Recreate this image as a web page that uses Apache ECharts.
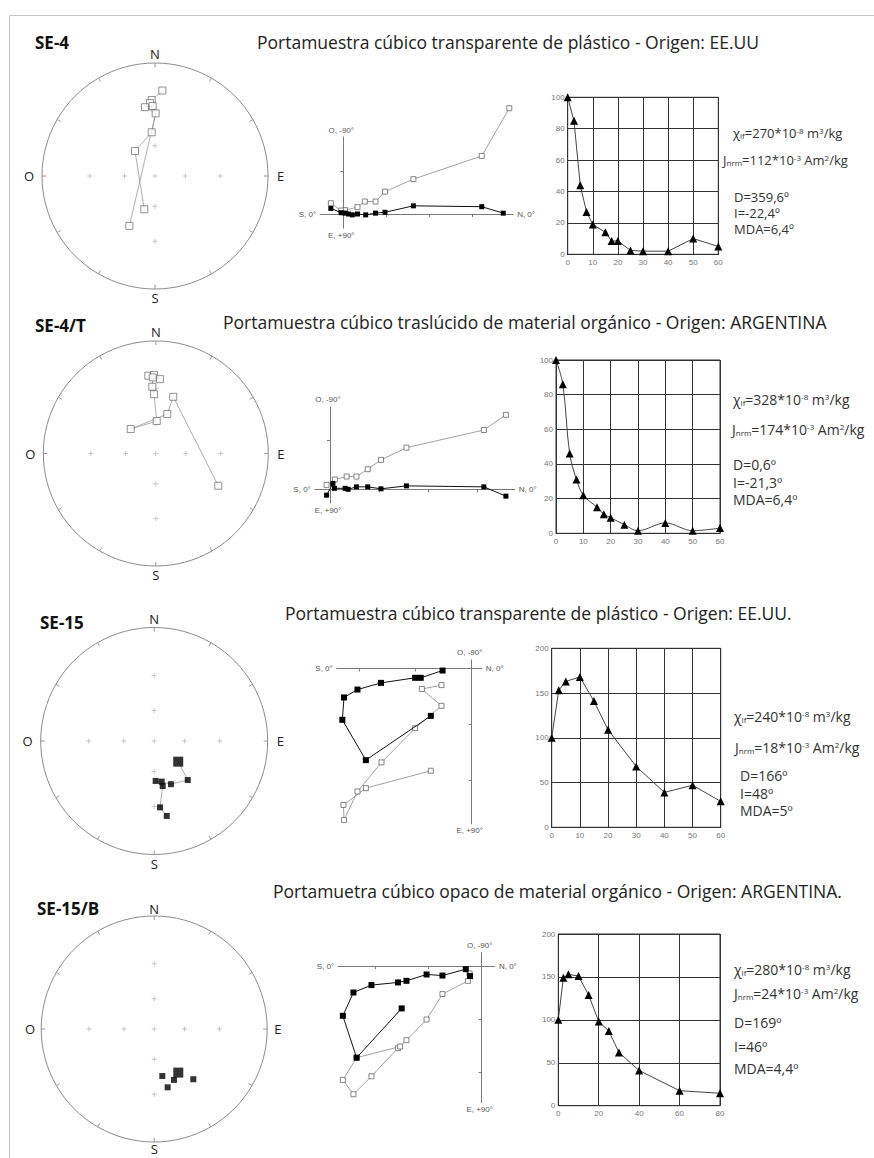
<!DOCTYPE html>
<html lang="es">
<head>
<meta charset="utf-8">
<title>Desmagnetización - portamuestras</title>
<script src="https://cdn.jsdelivr.net/npm/echarts@6.0.0/dist/echarts.min.js"></script>
<style>
html,body{margin:0;padding:0;background:#fff;}
#chart{width:874px;height:1158px;}
</style>
</head>
<body>
<div id="chart"></div>
<script>
// ================= DATA =================
const sampleIds = ['SE-4', 'SE-4/T', 'SE-15', 'SE-15/B'];
const holderTitles = [
  'Portamuestra cúbico transparente de plástico - Origen: EE.UU',
  'Portamuestra cúbico traslúcido de material orgánico - Origen: ARGENTINA',
  'Portamuestra cúbico transparente de plástico - Origen: EE.UU.',
  'Portamuetra cúbico opaco de material orgánico - Origen: ARGENTINA.'
];
const chiValues = ['270', '328', '240', '280'];
const jnrmValues = ['112', '174', '18', '24'];
const decValues = ['359,6º', '0,6º', '166º', '169º'];
const incValues = ['-22,4º', '-21,3º', '48º', '46º'];
const mdaValues = ['6,4º', '6,4º', '5º', '4,4º'];

// Stereonet directions (declination, inclination; negative = upper hemisphere)
const st1Dec = [4.9, 357.5, 356.1, 358.1, 351.7, 0.6, 355.7, 321.3, 197.8, 207.2];
const st1Inc = [-15.6, -22.2, -24.2, -26.4, -26.8, -32, -47.6, -58.4, -55.6, -37.2];
const st2Dec = [354.5, 358.7, 3.2, 357.7, 357, 358.3, 1.6, 314.3, 16.2, 17.1, 117.3];
const st2Inc = [-20.4, -20.2, -23, -21.8, -28.6, -34.4, -57.8, -55.4, -49.8, -34.4, -26];
const st3Dec = [130.7, 139.3, 158.8, 169.6, 177.9, 169.3, 175, 170.5];
const st3Inc = [58.8, 41.2, 45.6, 50, 51.2, 46, 29.2, 22.4];
const st4Dec = [151.1, 170.2, 158.8, 167, 142.1];
const st4Inc = [42.4, 44.2, 38.4, 34.2, 31.2];
// connection order (indices) for stereonet paths
const st1Paths = [[0, 1, 2, 3, 4, 5, 6, 7, 8], [5, 9]];
const st2Paths = [[0, 1, 2, 3, 4, 5, 6, 7, 8, 9, 10]];
const st3Paths = [[0, 1, 2, 3, 4, 5, 6, 7]];
const st4Paths = [];
const stFirstBig = [false, false, true, true];

// Zijderveld: horizontal projection (N, E) filled, vertical projection (N, Z) open
const zj1HN = [3.72, 3.22, 1.63, 0.97, 0.75, 0.52, 0.33, 0.21, 0.12, 0.04, -0.05, -0.29];
const zj1HE = [-0.02, -0.17, -0.19, -0.04, -0.02, 0.02, 0, 0.02, 0, -0.02, -0.03, -0.13];
const zj1VN = [3.86, 3.22, 1.63, 0.97, 0.75, 0.50, 0.33, 0.04, -0.05, -0.29];
const zj1VZ = [-2.46, -1.35, -0.81, -0.52, -0.29, -0.29, -0.16, -0.09, -0.08, -0.25];
const zj2HN = [3.59, 3.14, 1.56, 1.04, 0.77, 0.54, 0.37, 0.31, 0.09, 0.06, -0.07];
const zj2HE = [0.14, -0.05, -0.07, -0.01, -0.05, -0.05, 0, -0.02, -0.02, -0.12, 0.12];
const zj2VN = [3.59, 3.14, 1.56, 1.04, 0.77, 0.54, 0.34, 0.10, -0.07];
const zj2VZ = [-1.52, -1.21, -0.85, -0.60, -0.41, -0.26, -0.26, -0.20, -0.09];
const zj3HN = [-0.52, -0.91, -1.01, -1.62, -2.04, -2.28, -2.31, -1.89, -0.73];
const zj3HE = [0.04, 0.17, 0.17, 0.26, 0.38, 0.52, 0.92, 1.64, 0.85];
const zj3VN = [-0.54, -0.89, -0.54, -1.01, -1.61, -2.04, -2.28, -2.29, -1.89, -0.73];
const zj3VZ = [0.30, 0.37, 0.67, 1.07, 1.68, 2.20, 2.71, 2.44, 2.14, 1.83];
const zj4HN = [-0.22, -0.30, -0.74, -1.04, -1.42, -1.58, -2.08, -2.42, -2.62, -2.36, -1.51];
const zj4HE = [0.19, 0.06, 0.18, 0.16, 0.28, 0.31, 0.36, 0.50, 0.94, 1.73, 0.80];
const zj4VN = [-0.23, -0.26, -0.74, -1.04, -1.42, -1.58, -2.08, -2.42, -2.62, -2.36, -1.54];
const zj4VZ = [0.14, 0.28, 0.53, 1.01, 1.40, 1.55, 2.08, 2.42, 2.15, 1.73, 1.52];
const zjLabels = ['S, 0°', 'N, 0°', 'O, -90°', 'E, +90°'];

// AF demagnetization curves (field mT, intensity %)
const dm1Field = [0, 2.5, 5, 7.5, 10, 15, 17.5, 20, 25, 30, 40, 50, 60];
const dm1Int = [100, 85, 44, 27, 19, 14, 8.5, 8.5, 2.5, 2, 2, 10, 5];
const dm2Field = [0, 2.5, 5, 7.5, 10, 15, 17.5, 20, 25, 30, 40, 50, 60];
const dm2Int = [100, 86, 46, 31, 22, 15, 11, 9, 5, 1.5, 6, 1.5, 3];
const dm3Field = [0, 2.5, 5, 10, 15, 20, 30, 40, 50, 60];
const dm3Int = [100, 153, 163, 168, 141, 109, 68, 39, 47, 29];
const dm4Field = [0, 2.5, 5, 10, 15, 20, 25, 30, 40, 60, 80];
const dm4Int = [100, 149, 153, 151, 129, 98, 87, 62, 41, 17.5, 14.5];
const dmXMax = [60, 60, 60, 80];
const dmXInterval = [10, 10, 10, 20];
const dmYMax = [100, 100, 200, 200];
const dmYInterval = [20, 20, 50, 50];

// ================= LAYOUT =================
const stereoLayout = [
  {cx: 155, cy: 176, r: 113, margin: 3},
  {cx: 155.8, cy: 453.5, r: 112.5, margin: 3},
  {cx: 154.2, cy: 741, r: 113.5, margin: 3},
  {cx: 154.2, cy: 1029, r: 113, margin: 1}
];
const zijLayout = [
  {ox: 343.3, oy: 214, u: 43, xMin: -0.54, xMax: 3.95, yMin: -1.79, yMax: 0.33},
  {ox: 330, oy: 489.3, u: 49, xMin: -0.31, xMax: 3.77, yMin: -1.68, yMax: 0.28},
  {ox: 471.7, oy: 668.3, u: 56, xMin: -2.41, xMax: 0.18, yMin: -0.15, yMax: 2.78},
  {ox: 481.7, oy: 966, u: 53, xMin: -2.71, xMax: 0.25, yMin: -0.25, yMax: 2.58}
];
const demagLayout = [
  {left: 567.7, top: 97.3, width: 150.6, height: 157},
  {left: 556, top: 360, width: 164, height: 173.3},
  {left: 551.7, top: 648.3, width: 169, height: 179},
  {left: 558.3, top: 934, width: 161.7, height: 171.7}
];
const idPos = [[35, 42], [35, 325], [40, 622], [37, 908]];
const titlePos = [[257, 42], [223, 322], [285, 613], [273, 891]];
const propX = [[733, 723, 734, 734, 734], [733, 732, 733, 733, 733], [734, 735, 740, 740, 740], [734, 734, 734, 734, 734]];
const propY = [[133, 160, 197, 213, 229], [399, 429, 464, 482, 499], [716, 747, 775, 793, 810], [969, 993, 1022, 1046, 1068]];
const propFont = [13, 14, 14, 14];

// ================= BUILD =================
const stDec = [st1Dec, st2Dec, st3Dec, st4Dec];
const stInc = [st1Inc, st2Inc, st3Inc, st4Inc];
const stPaths = [st1Paths, st2Paths, st3Paths, st4Paths];
const zjHN = [zj1HN, zj2HN, zj3HN, zj4HN];
const zjHE = [zj1HE, zj2HE, zj3HE, zj4HE];
const zjVN = [zj1VN, zj2VN, zj3VN, zj4VN];
const zjVZ = [zj1VZ, zj2VZ, zj3VZ, zj4VZ];
const dmField = [dm1Field, dm2Field, dm3Field, dm4Field];
const dmInt = [dm1Int, dm2Int, dm3Int, dm4Int];

const TXT = '"Open Sans", "Noto Sans", sans-serif';
const AX = '"Liberation Sans", Arial, sans-serif';

// stereographic projection radius for an inclination
function projR(inc) { return Math.tan((90 - Math.abs(inc)) / 2 * Math.PI / 180); }

const cardinal = {0: '{n|N}', 90: '{e|E}', 180: '{n|S}', 270: '{o|O}'};
const graticule = [[0, 0]];
[60, 30].forEach(function (inc) {
  [0, 90, 180, 270].forEach(function (a) { graticule.push([projR(inc), a]); });
});
const crossPath = 'path://M4,0H6V4H10V6H6V10H4V6H0V4H4Z';

const chart = echarts.init(document.getElementById('chart'), null, {renderer: 'svg', width: 874, height: 1158});

const polar = [], angleAxis = [], radiusAxis = [], grid = [], xAxis = [], yAxis = [], series = [];

stereoLayout.forEach(function (s, k) {
  polar.push({center: [s.cx, s.cy], radius: s.r});
  angleAxis.push({
    polarIndex: k, type: 'value', min: 0, max: 360, interval: 30, startAngle: 90, clockwise: true,
    axisLine: {show: true, lineStyle: {color: '#8c8c8c', width: 1}},
    axisTick: {show: true, inside: true, length: 4, lineStyle: {color: '#9a9a9a', width: 1}},
    axisLabel: {show: true, margin: s.margin, color: '#222', fontSize: 13, fontFamily: TXT,
      formatter: function (v) { return cardinal[v] || ''; },
      rich: {
        n: {fontSize: 13, lineHeight: 12, fontFamily: TXT, color: '#222'},
        e: {fontSize: 13, lineHeight: 12, fontFamily: TXT, color: '#222', padding: [0, 0, 0, 6]},
        o: {fontSize: 13, lineHeight: 12, fontFamily: TXT, color: '#222', padding: [0, 5, 0, 0]}
      }},
    splitLine: {show: false}
  });
  radiusAxis.push({
    polarIndex: k, type: 'value', min: 0, max: 1,
    axisLine: {show: false}, axisTick: {show: false}, axisLabel: {show: false}, splitLine: {show: false}
  });
  series.push({type: 'scatter', coordinateSystem: 'polar', polarIndex: k, symbol: crossPath, symbolSize: 5,
    itemStyle: {color: '#b8b8b8'}, data: graticule, silent: true, z: 1});
  stPaths[k].forEach(function (path) {
    series.push({type: 'line', coordinateSystem: 'polar', polarIndex: k, symbol: 'none', silent: true, z: 2,
      lineStyle: {color: '#9a9a9a', width: 0.8},
      data: path.map(function (i) { return [projR(stInc[k][i]), stDec[k][i]]; })});
  });
  series.push({type: 'scatter', coordinateSystem: 'polar', polarIndex: k, symbol: 'rect', z: 3,
    data: stDec[k].map(function (d, i) {
      const up = stInc[k][i] < 0;
      return {
        value: [projR(stInc[k][i]), d],
        symbolSize: (i === 0 && stFirstBig[k]) ? 10 : (up ? 7 : 6),
        itemStyle: up ? {color: '#fff', borderColor: '#555', borderWidth: 0.8} : {color: '#000'}
      };
    })});
});

demagLayout.forEach(function (g, k) {
  grid.push({left: g.left, top: g.top, width: g.width, height: g.height, show: true,
    borderColor: '#333', borderWidth: 1, backgroundColor: 'transparent'});
  xAxis.push({gridIndex: k, type: 'value', min: 0, max: dmXMax[k], interval: dmXInterval[k],
    axisLine: {show: true, onZero: false, lineStyle: {color: '#333'}}, axisTick: {show: false},
    axisLabel: {fontSize: 8, color: '#777', margin: 4, fontFamily: AX},
    splitLine: {show: true, lineStyle: {color: '#333', width: 1}}});
  yAxis.push({gridIndex: k, type: 'value', min: 0, max: dmYMax[k], interval: dmYInterval[k],
    axisLine: {show: true, onZero: false, lineStyle: {color: '#333'}}, axisTick: {show: false},
    axisLabel: {fontSize: 8, color: '#777', margin: 3, fontFamily: AX},
    splitLine: {show: true, lineStyle: {color: '#333', width: 1}}});
  series.push({type: 'line', xAxisIndex: k, yAxisIndex: k, symbol: 'triangle', symbolSize: 8,
    smooth: k === 1 ? 0.35 : false, z: 3,
    itemStyle: {color: '#000'}, lineStyle: {color: '#444', width: 1},
    data: dmField[k].map(function (f, i) { return [f, dmInt[k][i]]; })});
});

function intTicks(a, b) {
  const out = [];
  for (let v = Math.ceil(a); v <= Math.floor(b); v++) { if (v !== 0) out.push(v); }
  return out;
}

zijLayout.forEach(function (z, k) {
  const gi = 4 + k;
  grid.push({left: z.ox + z.xMin * z.u, top: z.oy + z.yMin * z.u,
    width: (z.xMax - z.xMin) * z.u, height: (z.yMax - z.yMin) * z.u, show: false});
  xAxis.push({gridIndex: gi, type: 'value', min: z.xMin, max: z.xMax,
    axisLine: {show: true, onZero: true, lineStyle: {color: '#7a7a7a', width: 1}},
    axisTick: {show: true, customValues: intTicks(z.xMin, z.xMax), length: 3, lineStyle: {color: '#7a7a7a'}},
    axisLabel: {show: false}, splitLine: {show: false}});
  yAxis.push({gridIndex: gi, type: 'value', inverse: true, min: z.yMin, max: z.yMax,
    axisLine: {show: true, onZero: true, lineStyle: {color: '#7a7a7a', width: 1}},
    axisTick: {show: true, customValues: intTicks(z.yMin, z.yMax), length: 3, lineStyle: {color: '#7a7a7a'}},
    axisLabel: {show: false}, splitLine: {show: false}});
  series.push({type: 'line', xAxisIndex: gi, yAxisIndex: gi, symbol: 'rect', symbolSize: 5, z: 3, clip: false,
    itemStyle: {color: '#fff', borderColor: '#666', borderWidth: 0.8},
    lineStyle: {color: '#8a8a8a', width: 0.8},
    data: zjVN[k].map(function (n, i) { return [n, zjVZ[k][i]]; })});
  series.push({type: 'line', xAxisIndex: gi, yAxisIndex: gi, symbol: 'rect', symbolSize: k >= 2 ? 6 : 5, z: 4, clip: false,
    itemStyle: {color: '#000'}, lineStyle: {color: '#111', width: 1},
    data: zjHN[k].map(function (n, i) { return [n, zjHE[k][i]]; })});
});

chart.setOption({
  animation: false,
  backgroundColor: '#fff',
  polar: polar, angleAxis: angleAxis, radiusAxis: radiusAxis,
  grid: grid, xAxis: xAxis, yAxis: yAxis, series: series
});

// ---------- text graphics ----------
const elements = [];
elements.push({type: 'line', shape: {x1: 9.5, y1: 15.5, x2: 874, y2: 15.5}, style: {stroke: '#c4c4c4', lineWidth: 1}});
elements.push({type: 'line', shape: {x1: 9.5, y1: 15.5, x2: 9.5, y2: 1158}, style: {stroke: '#c4c4c4', lineWidth: 1}});

for (let k = 0; k < 4; k++) {
  const fs = propFont[k];
  const base = {fontSize: fs, fontFamily: TXT, fill: '#333', lineHeight: fs, verticalAlign: 'middle'};
  const sup = {fontSize: 8, fontFamily: TXT, fill: '#333', lineHeight: 7, verticalAlign: 'top'};
  const sub = {fontSize: 8, fontFamily: TXT, fill: '#333', lineHeight: 7, verticalAlign: 'bottom'};
  elements.push({type: 'text', x: idPos[k][0], y: idPos[k][1],
    style: {text: sampleIds[k], fontSize: 17, fontWeight: 'bold', fontFamily: TXT, fill: '#111',
      align: 'left', verticalAlign: 'middle'}});
  elements.push({type: 'text', x: titlePos[k][0], y: titlePos[k][1],
    style: {text: holderTitles[k], fontSize: 17.5, fontFamily: TXT, fill: '#222',
      align: 'left', verticalAlign: 'middle'}});
  const lines = [
    '{a|χ}{s|lf}{a|=' + chiValues[k] + '*10}{p|-8}{a| m}{p|3}{a|/kg}',
    '{a|J}{s|nrm}{a|=' + jnrmValues[k] + '*10}{p|-3}{a| Am}{p|2}{a|/kg}',
    '{a|D=' + decValues[k] + '}',
    '{a|I=' + incValues[k] + '}',
    '{a|MDA=' + mdaValues[k] + '}'
  ];
  lines.forEach(function (t, j) {
    elements.push({type: 'text', x: propX[k][j], y: propY[k][j],
      style: {text: t, align: 'left', verticalAlign: 'middle', rich: {a: base, p: sup, s: sub}}});
  });
}

// Zijderveld axis labels, placed from the axes' own scales
const lab = {fontSize: 8, fontFamily: AX, fill: '#555'};
zijLayout.forEach(function (z, k) {
  const f = {gridIndex: 4 + k};
  const pL = chart.convertToPixel(f, [z.xMin, 0]);
  const pR = chart.convertToPixel(f, [z.xMax, 0]);
  const pT = chart.convertToPixel(f, [0, z.yMin]);
  const pB = chart.convertToPixel(f, [0, z.yMax]);
  elements.push({type: 'text', x: pL[0] - 4, y: pL[1], style: Object.assign({text: zjLabels[0], align: 'right', verticalAlign: 'middle'}, lab)});
  elements.push({type: 'text', x: pR[0] + 4, y: pR[1], style: Object.assign({text: zjLabels[1], align: 'left', verticalAlign: 'middle'}, lab)});
  elements.push({type: 'text', x: pT[0] - 2, y: pT[1] - 7, style: Object.assign({text: zjLabels[2], align: 'center', verticalAlign: 'middle'}, lab)});
  elements.push({type: 'text', x: pB[0] - 2, y: pB[1] + 7, style: Object.assign({text: zjLabels[3], align: 'center', verticalAlign: 'middle'}, lab)});
});

chart.setOption({graphic: {elements: elements}});
</script>
</body>
</html>
